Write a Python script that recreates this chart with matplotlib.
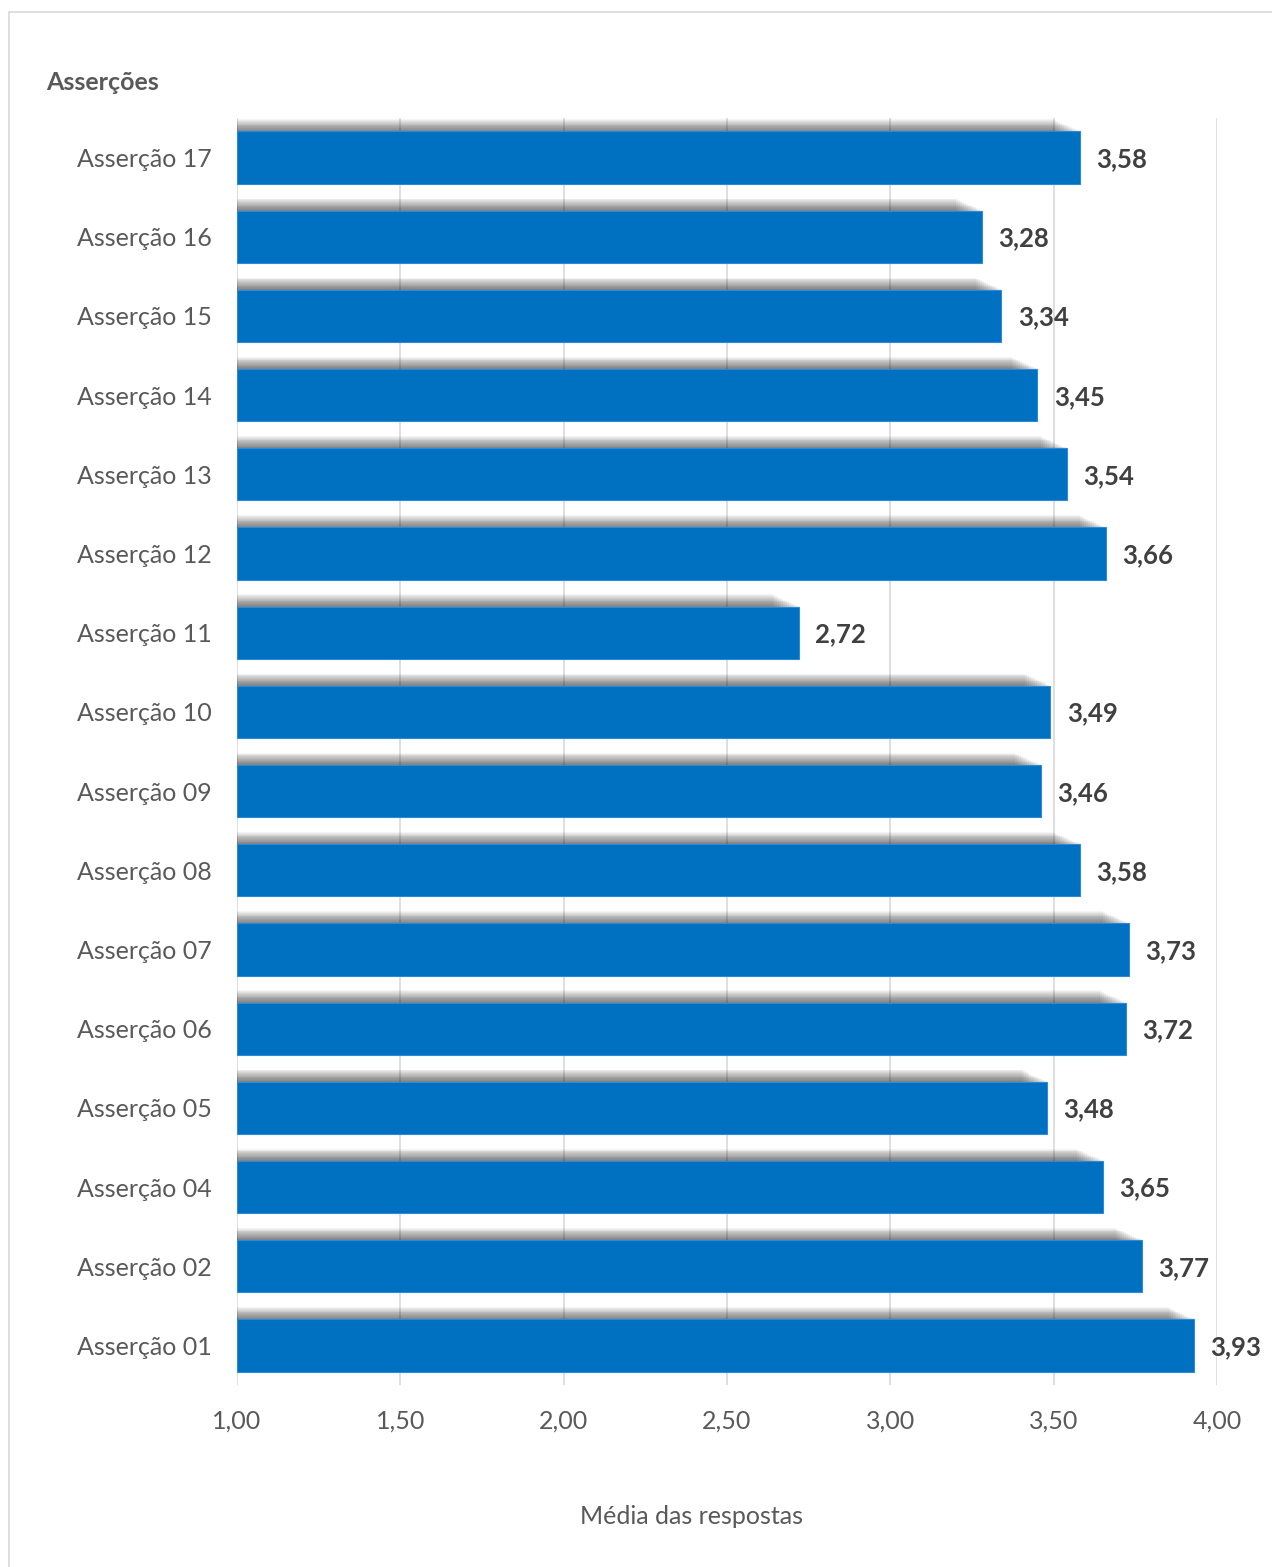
import matplotlib.pyplot as plt
from matplotlib.patches import Rectangle

plt.rcParams['font.family'] = ['Lato', 'DejaVu Sans']

labels = ["Asserção 01", "Asserção 02", "Asserção 04", "Asserção 05", "Asserção 06",
          "Asserção 07", "Asserção 08", "Asserção 09", "Asserção 10", "Asserção 11",
          "Asserção 12", "Asserção 13", "Asserção 14", "Asserção 15", "Asserção 16",
          "Asserção 17"]
values = [3.93, 3.77, 3.65, 3.48, 3.72, 3.73, 3.58, 3.46, 3.49, 2.72,
          3.66, 3.54, 3.45, 3.34, 3.28, 3.58]
xticks = [1.0, 1.5, 2.0, 2.5, 3.0, 3.5, 4.0]

fig = plt.figure(figsize=(12.72, 15.67), dpi=100)
ax = fig.add_axes([237 / 1272, 1 - 1385 / 1567, 980 / 1272, 1267 / 1567])

# outer border of the chart area
fig.patches.append(Rectangle((9 / 1272, -0.01), 1.1, 1 - 12 / 1567 + 0.01,
                             transform=fig.transFigure, fill=False,
                             edgecolor="#D9D9D9", linewidth=1.2))

ypos = list(range(len(labels)))
h = 0.66

# soft shadow above each bar
for k in range(14):
    off = 0.01 + k * 0.011
    ax.barh([y + off for y in ypos], [v - 1 - 0.006 * k for v in values], left=1,
            height=h, color="#000000", alpha=0.045, zorder=2, linewidth=0)

ax.barh(ypos, [v - 1 for v in values], left=1, height=h, color="#0070C0",
        edgecolor="#2E8AD8", linewidth=0.8, zorder=3)

for y, v in zip(ypos, values):
    ax.text(v + 0.05, y - 0.02, f"{v:.2f}".replace(".", ","), va="center", ha="left",
            fontsize=18.5, fontweight="bold", color="#404040", zorder=4)

ax.set_xlim(1, 4)
ax.set_ylim(-0.5, len(labels) - 0.5)
ax.set_xticks(xticks)
ax.set_xticklabels([f"{t:.2f}".replace(".", ",") for t in xticks], fontsize=18, color="#595959")
ax.set_yticks(ypos)
ax.set_yticklabels(labels, fontsize=18, color="#595959")
ax.tick_params(axis="both", length=0)
ax.tick_params(axis="x", pad=18)
ax.tick_params(axis="y", pad=18)
ax.grid(axis="x", color="#D9D9D9", linewidth=1.2, zorder=0)
ax.set_axisbelow(True)
for s in ax.spines.values():
    s.set_visible(False)

fig.text(692 / 1272, 1 - 1516 / 1567, "Média das respostas", ha="center", va="center",
         fontsize=18, color="#595959")
fig.text(46 / 1272, 1 - 82 / 1567, "Asserções", ha="left", va="center",
         fontsize=18, fontweight="bold", color="#595959")

fig.savefig("out.png", dpi=100)
